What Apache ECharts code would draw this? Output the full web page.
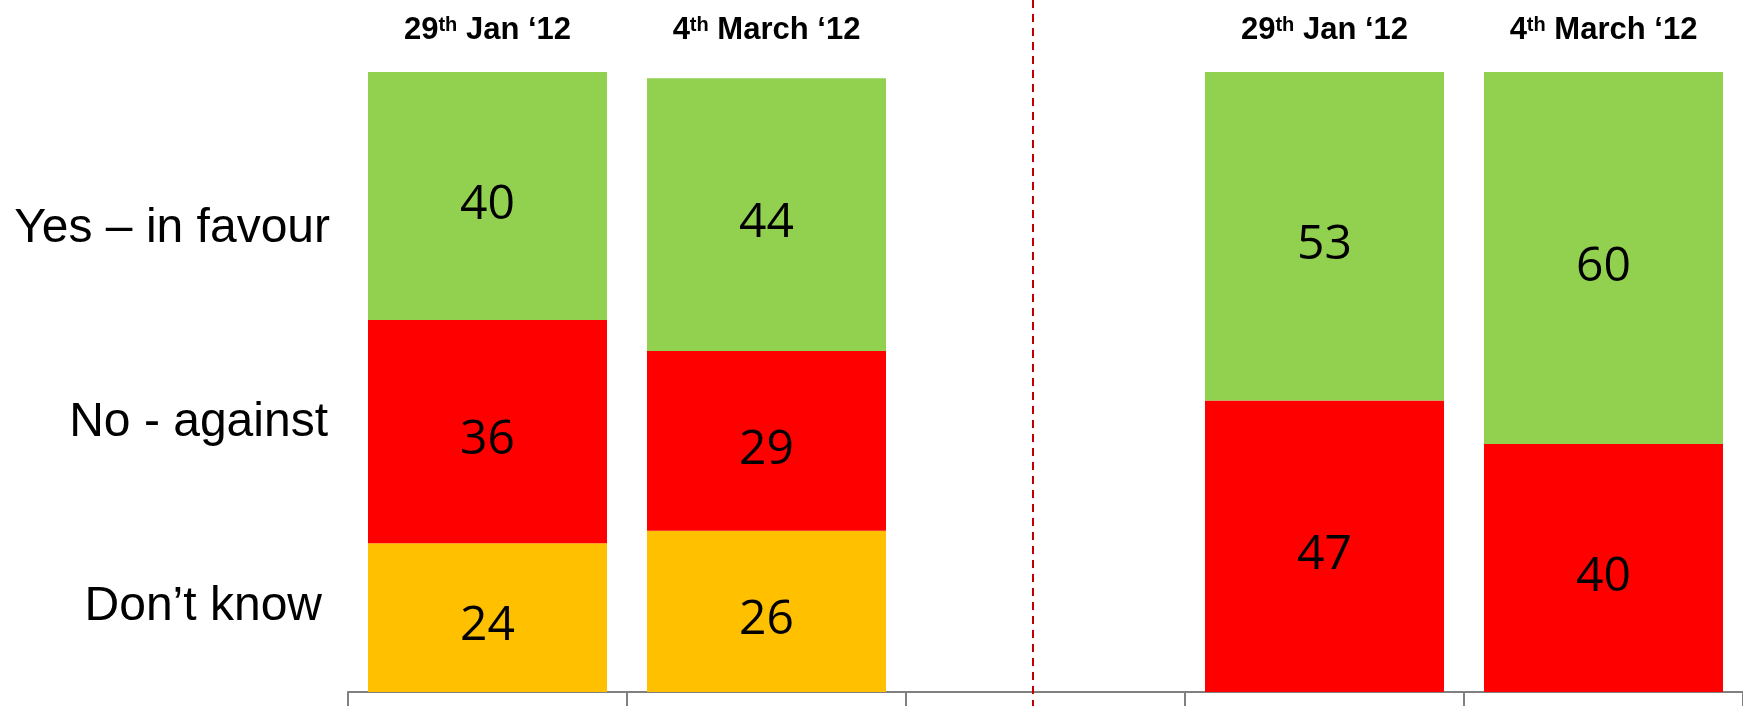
<!DOCTYPE html>
<html>
<head>
<meta charset="utf-8">
<script src="https://cdn.jsdelivr.net/npm/echarts@6/dist/echarts.min.js"></script>
<style>html,body{margin:0;padding:0;background:#fff;}#c{width:1743px;height:706px;}</style>
</head>
<body>
<div id="c"></div>
<script>
var categories = ['A1', 'A2', 'gap', 'B1', 'B2'];
var headerLabels = ['29|th| Jan ‘12', '4|th| March ‘12', '', '29|th| Jan ‘12', '4|th| March ‘12'];
var yesVals = [40, 44, '-', 53, 60];
var noVals = [36, 29, '-', 47, 40];
var dkVals = [24, 26, '-', '-', '-'];
var rowLabels = ['Yes – in favour', 'No - against', 'Don’t know'];

var chart = echarts.init(document.getElementById('c'));
var labelStyle = {
  show: true, position: 'inside', offset: [0, 9], color: '#000',
  fontFamily: 'Open Sans', fontSize: 48,
  formatter: function (p) { return p.value; }
};
function mk(name, vals, color) {
  return {
    name: name, type: 'bar', stack: 'all', data: vals, barWidth: 239,
    itemStyle: { color: color }, label: labelStyle, silent: true
  };
}
chart.setOption({
  animation: false,
  grid: { left: 348, width: 1400, top: 72, bottom: 14 },
  xAxis: [{
    type: 'category', data: categories,
    axisLine: { lineStyle: { color: '#808080', width: 2 } },
    axisTick: { show: true, length: 14, lineStyle: { color: '#808080', width: 2 } },
    axisLabel: { show: false }
  }, {
    type: 'category', data: headerLabels, position: 'top',
    axisLine: { show: false }, axisTick: { show: false },
    axisLabel: {
      margin: 24,
      formatter: function (v) {
        if (!v) return '';
        var p = v.split('|');
        return '{b|' + p[0] + '}{s|' + p[1] + '}{b|' + p[2] + '}';
      },
      rich: {
        b: { fontFamily: 'Liberation Sans', fontWeight: 'bold', fontSize: 31, color: '#000', lineHeight: 35 },
        s: { fontFamily: 'Liberation Sans', fontWeight: 'bold', fontSize: 20, color: '#000', lineHeight: 35, verticalAlign: 'top', padding: [2, 0, 0, 0] }
      }
    }
  }],
  yAxis: { type: 'value', min: 0, max: 100, show: false, splitLine: { show: false } },
  series: [
    mk('Don’t know', dkVals, '#FFC000'),
    mk('No - against', noVals, '#FF0000'),
    mk('Yes – in favour', yesVals, '#92D050')
  ],
  graphic: [
    { type: 'line', shape: { x1: 1033, y1: 0, x2: 1033, y2: 706 }, style: { stroke: '#C00000', lineWidth: 2, lineDash: [8, 6] }, z: 10 },
    { type: 'text', x: 330, y: 229, style: { text: rowLabels[0], fill: '#000', font: '48px "Liberation Sans"', textAlign: 'right', textVerticalAlign: 'middle' } },
    { type: 'text', x: 328, y: 423, style: { text: rowLabels[1], fill: '#000', font: '48px "Liberation Sans"', textAlign: 'right', textVerticalAlign: 'middle' } },
    { type: 'text', x: 322, y: 607, style: { text: rowLabels[2], fill: '#000', font: '48px "Liberation Sans"', textAlign: 'right', textVerticalAlign: 'middle' } }
  ]
});
</script>
</body>
</html>
